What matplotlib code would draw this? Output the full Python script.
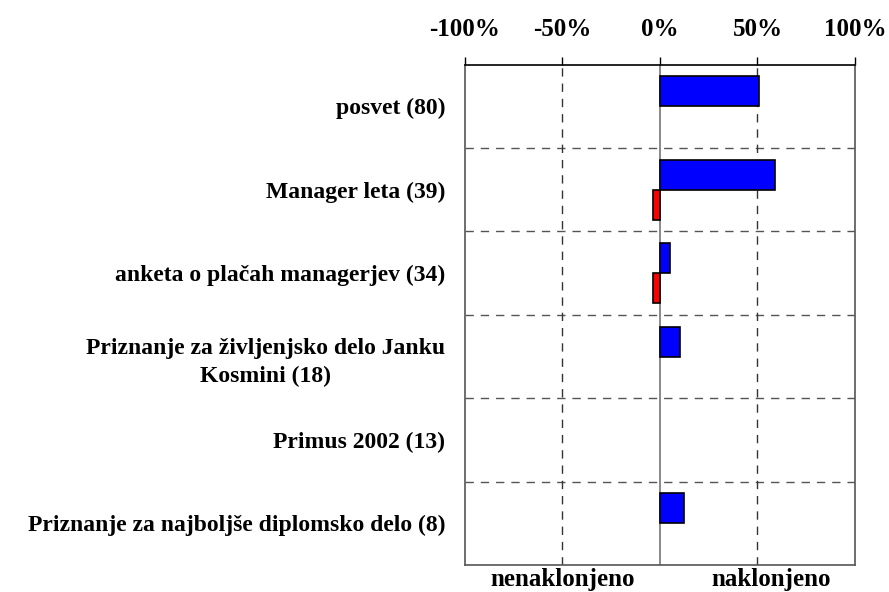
import matplotlib.pyplot as plt

# data
categories = [
    'posvet (80)',
    'Manager leta (39)',
    'anketa o plačah managerjev (34)',
    'Priznanje za življenjsko delo Janku\nKosmini (18)',
    'Primus 2002 (13)',
    'Priznanje za najboljše diplomsko delo (8)',
]
positive = [51, 59, 5, 10.5, 0, 12.5]
negative = [0, -3.3, -3.3, 0, 0, 0]

plt.rcParams['font.family'] = 'Liberation Serif'
plt.rcParams['font.weight'] = 'bold'

fig = plt.figure(figsize=(8.89, 5.92), dpi=100)
ax = fig.add_axes([0.5227, 0.0456, 0.4391, 0.8451])

rows = list(range(len(categories)))
h = 0.36
# no outline for empty bars
ax.barh([r - h / 2 for r in rows], positive, height=h, color='#0000ff',
        edgecolor=['black' if v else 'none' for v in positive], linewidth=1.2, zorder=3)
ax.barh([r + h / 2 for r in rows], negative, height=h, color='#ff0000',
        edgecolor=['black' if v else 'none' for v in negative], linewidth=1.2, zorder=3)

ax.set_xlim(-100, 100)
ax.set_ylim(len(categories) - 0.5, -0.5)

# gridlines
for b in range(1, len(categories)):
    ax.axhline(b - 0.5, color='#555555', linestyle=(0, (6, 5)), linewidth=1, zorder=1)
for x in (-50, 50):
    ax.axvline(x, color='#333333', linestyle=(0, (6, 5)), linewidth=1, zorder=1)
ax.axvline(0, color='#777777', linewidth=1.2, zorder=2)

ax.xaxis.tick_top()
ax.set_xticks([-100, -50, 0, 50, 100])
ax.set_xticklabels(['-100%', '-50%', '0%', '50%', '100%'], fontsize=18, fontweight='bold')
ax.tick_params(axis='x', length=6, width=1, pad=11, color='black')

ax.set_yticks(rows)
ax.set_yticklabels(categories, fontsize=17, fontweight='bold',
                   multialignment='center', linespacing=1.45)
ax.tick_params(axis='y', length=0, pad=14)

ax.spines['top'].set_color('black')
ax.spines['top'].set_linewidth(1.2)
for s in ('left', 'right', 'bottom'):
    ax.spines[s].set_color('#555555')
    ax.spines[s].set_linewidth(1.2)

tr = ax.get_xaxis_transform()
ax.text(-50, -0.042, 'nenaklonjeno', transform=tr, ha='center', va='baseline',
        fontsize=18, fontweight='bold')
ax.text(57, -0.042, 'naklonjeno', transform=tr, ha='center', va='baseline',
        fontsize=18, fontweight='bold')

fig.savefig('out.png', dpi=100)
